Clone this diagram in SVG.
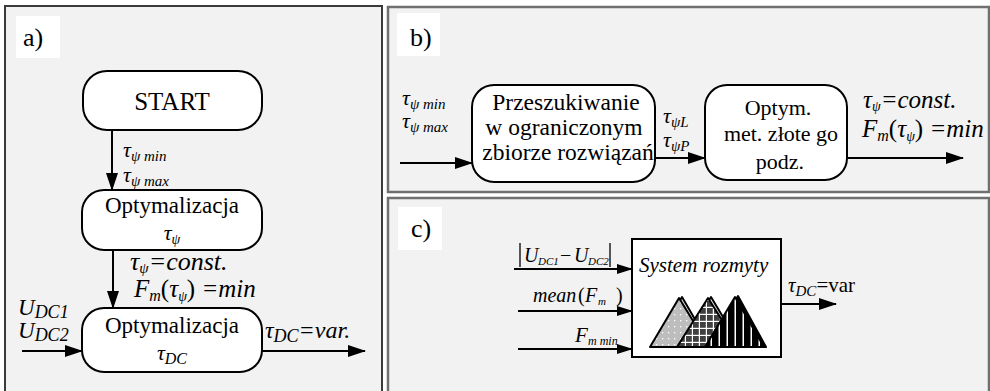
<svg xmlns="http://www.w3.org/2000/svg" width="990" height="391" viewBox="0 0 990 391">
<style>
.pa{fill:#f2f2f2;stroke:#3a3a3a;stroke-width:2}
.pb{fill:#f2f2f2;stroke:#707070;stroke-width:2.5}
.lb{fill:#fff}
.box{fill:#fff;stroke:#000;stroke-width:2}
.ln{stroke:#000;stroke-width:2;fill:none}
</style>
<defs>
<marker id="ah" markerUnits="userSpaceOnUse" markerWidth="18" markerHeight="12" refX="17" refY="6" orient="auto">
<path d="M0,0 L18,6 L0,12 z" fill="#000"/>
</marker>
<marker id="ahs" markerUnits="userSpaceOnUse" markerWidth="16" markerHeight="10" refX="15" refY="5" orient="auto">
<path d="M0,0 L16,5 L0,10 z" fill="#000"/>
</marker>
<pattern id="dots" patternUnits="userSpaceOnUse" width="6" height="6">
<rect width="6" height="6" fill="#bdbdbd"/>
<rect x="2" y="2" width="1.3" height="1.3" fill="#fff"/>
</pattern>
<pattern id="grid" patternUnits="userSpaceOnUse" width="7" height="7">
<rect width="7" height="7" fill="#404040"/>
<rect x="5.8" y="0" width="1.2" height="7" fill="#fff"/>
<rect x="0" y="5.8" width="7" height="1.2" fill="#fff"/>
</pattern>
<pattern id="vl" patternUnits="userSpaceOnUse" width="8" height="8">
<rect width="8" height="8" fill="#000"/>
<rect x="6.5" y="0" width="1.5" height="8" fill="#fff"/>
</pattern>
</defs>

<g id="panel-a">
<rect class="pa" x="5" y="6" width="377" height="392"/>
<rect class="lb" x="16" y="16" width="44" height="42"/>
<text font-family="Liberation Serif" x="23" y="46" font-size="26">a)</text>
</g>
<g id="panel-b">
<rect class="pb" x="388" y="7" width="601" height="185"/>
<rect class="lb" x="397" y="13" width="43" height="43"/>
<text font-family="Liberation Serif" x="410" y="46" font-size="26">b)</text>
</g>
<g id="panel-c">
<rect class="pb" x="388" y="198" width="601" height="200"/>
<rect class="lb" x="398" y="207" width="44" height="43"/>
<text font-family="Liberation Serif" x="411" y="237" font-size="26">c)</text>
</g>

<g id="connectors">
<line class="ln" marker-end="url(#ah)" x1="112" y1="130" x2="112" y2="190"/>
<line class="ln" marker-end="url(#ah)" x1="113" y1="250" x2="113" y2="308"/>
<line class="ln" marker-end="url(#ah)" x1="22" y1="351" x2="82" y2="351"/>
<line class="ln" marker-end="url(#ah)" x1="262" y1="351" x2="365" y2="351"/>
<line class="ln" marker-end="url(#ah)" x1="400" y1="163" x2="472" y2="163"/>
<line class="ln" marker-end="url(#ah)" x1="655" y1="158" x2="705" y2="158"/>
<line class="ln" marker-end="url(#ah)" x1="847" y1="158" x2="963" y2="158"/>
<line class="ln" marker-end="url(#ahs)" x1="514" y1="269" x2="632" y2="269"/>
<line class="ln" marker-end="url(#ahs)" x1="518" y1="311" x2="632" y2="311"/>
<line class="ln" marker-end="url(#ahs)" x1="518" y1="349" x2="632" y2="349"/>
<line class="ln" marker-end="url(#ah)" x1="781" y1="304" x2="836" y2="304"/>
</g>

<g id="start">
<rect class="box" x="83" y="71" width="179" height="59" rx="24"/>
<text font-family="Liberation Serif" x="172" y="110" font-size="25" text-anchor="middle">START</text>
</g>
<g id="opt-psi">
<rect class="box" x="82" y="190" width="180" height="60" rx="22"/>
<text font-family="Liberation Serif" x="172" y="213" font-size="23" text-anchor="middle">Optymalizacja</text>
<text font-family="Liberation Serif" font-style="italic" x="172" y="240" font-size="22" text-anchor="middle">&#964;<tspan font-size="14" dy="4">&#968;</tspan></text>
</g>
<g id="opt-dc">
<rect class="box" x="82" y="308" width="180" height="64" rx="22"/>
<text font-family="Liberation Serif" x="172" y="333" font-size="23" text-anchor="middle">Optymalizacja</text>
<text font-family="Liberation Serif" font-style="italic" x="172" y="360" font-size="22" text-anchor="middle">&#964;<tspan font-size="16" dy="4">DC</tspan></text>
</g>
<g id="labels-a">
<text font-family="Liberation Serif" font-style="italic" x="123" y="157" font-size="22">&#964;<tspan font-size="15" dy="4">&#968; min</tspan></text>
<text font-family="Liberation Serif" font-style="italic" x="123" y="182" font-size="22">&#964;<tspan font-size="15" dy="4">&#968; max</tspan></text>
<text font-family="Liberation Serif" font-style="italic" x="130" y="270" font-size="26">&#964;<tspan font-size="15" dy="3">&#968;</tspan><tspan dy="-3">=const.</tspan></text>
<text font-family="Liberation Serif" font-style="italic" x="134" y="297" font-size="25">F<tspan font-size="16" dy="4">m</tspan><tspan dy="-4" font-style="normal">(</tspan>&#964;<tspan font-size="14" dy="4">&#968;</tspan><tspan dy="-4" font-style="normal">)</tspan> =min</text>
<text font-family="Liberation Serif" font-style="italic" x="18" y="315" font-size="23">U<tspan font-size="18" dy="3">DC1</tspan></text>
<text font-family="Liberation Serif" font-style="italic" x="18" y="338" font-size="23">U<tspan font-size="18" dy="3">DC2</tspan></text>
<text font-family="Liberation Serif" font-style="italic" x="265" y="338" font-size="24">&#964;<tspan font-size="18" dy="4">DC</tspan><tspan dy="-4">=var.</tspan></text>
</g>

<g id="search">
<rect class="box" x="472" y="85" width="183" height="97" rx="22"/>
<text font-family="Liberation Serif" x="566" y="110" font-size="23.5" text-anchor="middle">Przeszukiwanie</text>
<text font-family="Liberation Serif" x="564" y="135" font-size="23.5" text-anchor="middle">w ograniczonym</text>
<text font-family="Liberation Serif" x="568" y="160" font-size="23.5" text-anchor="middle">zbiorze rozwi&#261;za&#324;</text>
</g>
<g id="golden">
<rect class="box" x="705" y="85" width="142" height="95" rx="22"/>
<text font-family="Liberation Serif" x="778" y="115" font-size="22" text-anchor="middle">Optym.</text>
<text font-family="Liberation Serif" x="781" y="141" font-size="22" text-anchor="middle">met. z&#322;ote go</text>
<text font-family="Liberation Serif" x="780" y="169" font-size="22" text-anchor="middle">podz.</text>
</g>
<g id="labels-b">
<text font-family="Liberation Serif" font-style="italic" x="402" y="105" font-size="22">&#964;<tspan font-size="15" dy="4">&#968; min</tspan></text>
<text font-family="Liberation Serif" font-style="italic" x="402" y="128" font-size="22">&#964;<tspan font-size="15" dy="4">&#968; max</tspan></text>
<text font-family="Liberation Serif" font-style="italic" x="663" y="123" font-size="22">&#964;<tspan font-size="15" dy="4">&#968;L</tspan></text>
<text font-family="Liberation Serif" font-style="italic" x="663" y="147" font-size="22">&#964;<tspan font-size="15" dy="4">&#968;P</tspan></text>
<text font-family="Liberation Serif" font-style="italic" x="863" y="108" font-size="25">&#964;<tspan font-size="14" dy="3">&#968;</tspan><tspan dy="-3">=const.</tspan></text>
<text font-family="Liberation Serif" font-style="italic" x="862" y="137" font-size="25">F<tspan font-size="16" dy="4">m</tspan><tspan dy="-4" font-style="normal">(</tspan>&#964;<tspan font-size="14" dy="4">&#968;</tspan><tspan dy="-4" font-style="normal">)</tspan> =min</text>
</g>

<g id="fuzzy">
<rect x="632" y="239" width="149" height="118" fill="#fff" stroke="#000" stroke-width="2"/>
<text font-family="Liberation Serif" font-style="italic" x="639" y="272" font-size="21">System rozmyty</text>
<g stroke="#000" stroke-width="2" stroke-linejoin="round">
<polygon points="652,347 682,297 711,347" fill="#e6e6e6"/>
<polygon points="650,347 679,298 709,347" fill="url(#dots)"/>
<polygon points="679,347 711,297 741,347" fill="#e6e6e6"/>
<polygon points="677,347 708,298 739,347" fill="url(#grid)"/>
<polygon points="707,347 738,296 766,347" fill="#000"/>
<polygon points="705,347 735,297 764,347" fill="url(#vl)"/>
</g>
</g>
<g id="labels-c">
<line x1="520" y1="243" x2="520" y2="267" stroke="#000" stroke-width="1.3"/>
<line x1="610" y1="243" x2="610" y2="267" stroke="#000" stroke-width="1.3"/>
<text font-family="Liberation Serif" font-style="italic" font-size="20" y="262"><tspan x="524">U</tspan><tspan x="538" font-size="11" dy="3">DC1</tspan><tspan x="560" dy="-3" font-style="normal">&#8722;</tspan><tspan x="574">U</tspan><tspan x="588" font-size="11" dy="3">DC2</tspan></text>
<text font-family="Liberation Serif" font-style="italic" font-size="20" y="302"><tspan x="533">mean</tspan><tspan x="578" font-style="normal">(</tspan><tspan x="585">F</tspan><tspan x="598" font-size="11" dy="3">m</tspan><tspan x="616" dy="-3" font-style="normal">)</tspan></text>
<text font-family="Liberation Serif" font-style="italic" font-size="21" y="342"><tspan x="575">F</tspan><tspan x="588" font-size="12" dy="3">m min</tspan></text>
<text font-family="Liberation Serif" font-size="21" y="292"><tspan x="788" font-style="italic">&#964;</tspan><tspan font-size="15" font-style="italic" dy="4">DC</tspan><tspan dy="-4">=var</tspan></text>
</g>
</svg>
